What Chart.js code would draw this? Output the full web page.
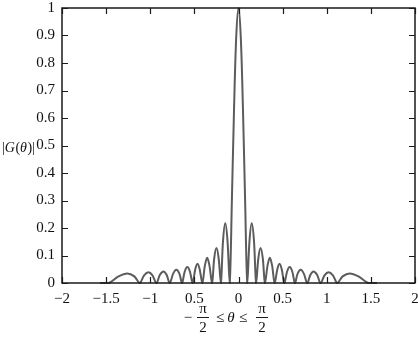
<!DOCTYPE html>
<html>
<head>
<meta charset="utf-8">
<script src="https://cdn.jsdelivr.net/npm/chart.js@4.4.0/dist/chart.umd.min.js"></script>
<style>
  html, body { margin: 0; padding: 0; background: #fff; }
  #wrap { width: 418px; height: 339px; position: relative; }
</style>
</head>
<body>
<div id="wrap"><canvas id="gainChart"></canvas></div>
<script>
// values: nulls, quarter points and peaks of each lobe
const theta = [
  -1.57, -1.47, -1.36, -1.26, -1.18, -1.12,
  -1.07, -1.02, -0.975, -0.93,
  -0.89, -0.85, -0.815, -0.78,
  -0.74, -0.705, -0.67, -0.64,
  -0.61, -0.58, -0.55, -0.52,
  -0.49, -0.465, -0.44, -0.41,
  -0.38, -0.355, -0.33, -0.30,
  -0.275, -0.25, -0.225, -0.20,
  -0.175, -0.15, -0.125, -0.10,
  -0.075, -0.05, -0.025, 0,
  0.025, 0.05, 0.075, 0.10,
  0.125, 0.15, 0.175, 0.20,
  0.225, 0.25, 0.275, 0.30,
  0.33, 0.355, 0.38, 0.41,
  0.44, 0.465, 0.49, 0.52,
  0.55, 0.58, 0.61, 0.64,
  0.67, 0.705, 0.74, 0.78,
  0.815, 0.85, 0.89, 0.93,
  0.975, 1.02, 1.07, 1.12,
  1.18, 1.26, 1.36, 1.47, 1.57
];
const gain = [
  0, 0, 0.024, 0.035, 0.024, 0,
  0.028, 0.039, 0.028, 0,
  0.03, 0.042, 0.03, 0,
  0.034, 0.048, 0.034, 0,
  0.041, 0.058, 0.041, 0,
  0.05, 0.07, 0.05, 0,
  0.065, 0.092, 0.065, 0,
  0.09, 0.127, 0.09, 0,
  0.155, 0.217, 0.155, 0,
  0.3, 0.64, 0.9, 1,
  0.9, 0.64, 0.3, 0,
  0.155, 0.217, 0.155, 0,
  0.09, 0.127, 0.09, 0,
  0.065, 0.092, 0.065, 0,
  0.05, 0.07, 0.05, 0,
  0.041, 0.058, 0.041, 0,
  0.034, 0.048, 0.034, 0,
  0.03, 0.042, 0.03, 0,
  0.028, 0.039, 0.028, 0,
  0.024, 0.035, 0.024, 0, 0
];
const xTickLabels = ['\u22122', '\u22121.5', '\u22121', '0.5', '0', '0.5', '1', '1.5', '2'];
const yTickLabels = ['0', '0.1', '0.2', '0.3', '0.4', '0.5', '0.6', '0.7', '0.8', '0.9', '1'];

const SERIF = '"Liberation Serif", "DejaVu Serif", serif';
const INK = '#111';

// box, inward tick marks and axis titles
const framePlugin = {
  id: 'frame',
  afterDraw(chart) {
    const { ctx, chartArea: a, scales } = chart;
    const xs = scales.x, ys = scales.y;
    ctx.save();
    ctx.strokeStyle = '#1a1a1a';
    ctx.lineWidth = 1.5;
    ctx.strokeRect(a.left, a.top, a.right - a.left, a.bottom - a.top);

    ctx.lineWidth = 1.2;
    ctx.beginPath();
    xs.ticks.forEach(t => {
      const px = Math.round(xs.getPixelForValue(t.value)) + 0.5;
      ctx.moveTo(px, a.bottom); ctx.lineTo(px, a.bottom - 6);
      ctx.moveTo(px, a.top); ctx.lineTo(px, a.top + 6);
    });
    ys.ticks.forEach(t => {
      const py = Math.round(ys.getPixelForValue(t.value)) + 0.5;
      ctx.moveTo(a.left, py); ctx.lineTo(a.left + 6, py);
      ctx.moveTo(a.right, py); ctx.lineTo(a.right - 6, py);
    });
    ctx.stroke();

    // y title |G(θ)|
    ctx.fillStyle = INK;
    ctx.textBaseline = 'middle';
    ctx.textAlign = 'left';
    let px = 2;
    const yMid = 148;
    [['|', ''], ['G', 'italic '], ['(', ''], ['\u03b8', 'italic '], [')|', '']].forEach(([s, st]) => {
      ctx.font = st + '14px ' + SERIF;
      ctx.fillText(s, px, yMid);
      px += ctx.measureText(s).width + (st ? 0.5 : 0);
    });

    // x title  −π/2 ≤ θ ≤ π/2
    const midY = 319;
    const frac = (cx) => {
      ctx.font = '15px ' + SERIF;
      ctx.textAlign = 'center';
      ctx.fillText('\u03c0', cx, midY - 10);
      ctx.fillText('2', cx, midY + 9);
      ctx.beginPath();
      ctx.lineWidth = 1;
      ctx.moveTo(cx - 6, midY - 1.5); ctx.lineTo(cx + 6, midY - 1.5);
      ctx.stroke();
    };
    ctx.font = '15px ' + SERIF;
    ctx.textAlign = 'center';
    ctx.fillText('\u2212', 188, midY - 1);
    frac(203);
    ctx.fillText('\u2264', 220, midY - 1);
    ctx.font = 'italic 15px ' + SERIF;
    ctx.fillText('\u03b8', 231, midY - 1);
    ctx.font = '15px ' + SERIF;
    ctx.fillText('\u2264', 243, midY - 1);
    frac(262);
    ctx.restore();
  }
};

new Chart(document.getElementById('gainChart'), {
  type: 'line',
  data: {
    datasets: [{
      data: theta.map((t, i) => ({ x: t, y: gain[i] })),
      borderColor: '#5c5c5c',
      borderWidth: 2,
      pointRadius: 0,
      tension: 0.35,
      fill: false,
      clip: 3
    }]
  },
  options: {
    responsive: true,
    maintainAspectRatio: false,
    animation: false,
    layout: { padding: { left: 0, right: 3, top: 8, bottom: 0 } },
    plugins: { legend: { display: false }, tooltip: { enabled: false } },
    scales: {
      x: {
        type: 'linear',
        min: -2,
        max: 2,
        afterFit: s => { s.height = 56; s.paddingLeft = 0; s.paddingRight = 0; },
        grid: { display: false, drawTicks: false },
        border: { display: false },
        ticks: {
          stepSize: 0.5,
          autoSkip: false,
          maxRotation: 0,
          padding: 7,
          color: INK,
          font: { family: SERIF, size: 15 },
          callback: (v, i) => xTickLabels[i]
        }
      },
      y: {
        min: 0,
        max: 1,
        afterFit: s => { s.width = 62; s.paddingTop = 0; s.paddingBottom = 0; },
        grid: { display: false, drawTicks: false },
        border: { display: false },
        ticks: {
          stepSize: 0.1,
          autoSkip: false,
          padding: 7,
          color: INK,
          font: { family: SERIF, size: 15 },
          callback: (v, i) => yTickLabels[i]
        }
      }
    }
  },
  plugins: [framePlugin]
});
</script>
</body>
</html>
